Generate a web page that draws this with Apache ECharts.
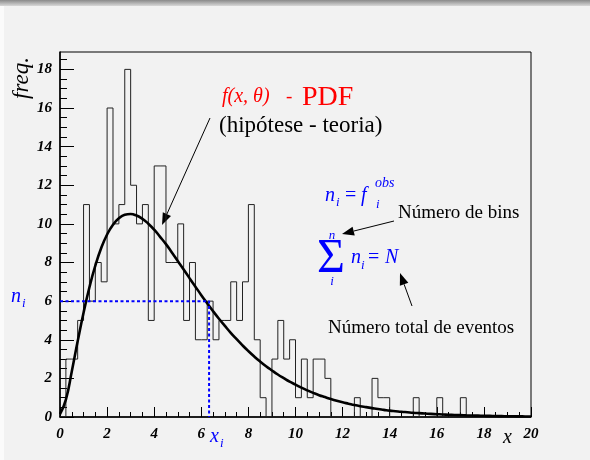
<!DOCTYPE html>
<html>
<head>
<meta charset="utf-8">
<script src="https://cdn.jsdelivr.net/npm/echarts@6/dist/echarts.min.js"></script>
<style>
  html, body { margin: 0; padding: 0; background: #f2f2f2; }
  #chart { width: 590px; height: 460px; }
</style>
</head>
<body>
<div id="chart"></div>
<script>
// Histogram: 80 bins of width 0.25 on [0, 20]
const binWidth = 0.25;
const binCounts = [
  0, 3, 3, 5, 11, 6, 8, 7, 16, 10,
  11, 18, 12, 10, 11, 5, 13, 13, 8, 8,
  10, 5, 8, 4, 4, 6, 4, 5, 5, 7,
  5, 7, 11, 4, 1, 0, 3, 5, 3, 4,
  1, 3, 1, 3, 3, 2, 0, 0, 0, 0,
  1, 0, 0, 2, 1, 1, 0, 0, 0, 0,
  1, 0, 0, 0, 1, 0, 0, 0, 1, 0,
  0, 0, 0, 0, 0, 0, 0, 0, 0, 0
];

// Fitted PDF f(x, θ), sampled every 0.25 from x = 0 to x = 20
const pdfStep = 0.25;
const pdfValues = [
  0.15, 0.9, 2.36, 3.92, 5.4, 6.72, 7.84, 8.75, 9.45, 9.96,
  10.29, 10.47, 10.51, 10.43, 10.26, 10.01, 9.7, 9.33, 8.95, 8.52,
  8.08, 7.64, 7.19, 6.75, 6.31, 5.89, 5.48, 5.09, 4.72, 4.36,
  4.03, 3.71, 3.41, 3.13, 2.87, 2.63, 2.41, 2.2, 2.01, 1.83,
  1.68, 1.52, 1.38, 1.25, 1.13, 1.03, 0.93, 0.84, 0.76, 0.69,
  0.62, 0.56, 0.51, 0.46, 0.41, 0.37, 0.33, 0.3, 0.27, 0.245,
  0.22, 0.2, 0.18, 0.16, 0.145, 0.13, 0.12, 0.105, 0.095, 0.085,
  0.077, 0.07, 0.062, 0.056, 0.05, 0.045, 0.04, 0.036, 0.032, 0.029,
  0.026
];

// Highlighted bin: x_i and n_i
const xi = 6.33;
const ni = 6;

// Axis ticks
const xMax = 20;
const yMax = 18.9;
const yMajorTicks = [0, 2, 4, 6, 8, 10, 12, 14, 16, 18];
const yMinorTicks = [];
for (let v = 0; v <= 18.5; v += 0.5) yMinorTicks.push(v);

const serif = '"Liberation Serif", "DejaVu Serif", serif';
const blue = '#0000ff';
const red = '#ff0000';

// Step outline of the histogram
const histPoints = [[0, 0]];
binCounts.forEach((c, k) => histPoints.push([k * binWidth, c]));
histPoints.push([binCounts.length * binWidth, binCounts[binCounts.length - 1]]);

const pdfPoints = pdfValues.map((y, i) => [i * pdfStep, y]);

function arrow(x1, y1, x2, y2, len, half) {
  const dx = x2 - x1, dy = y2 - y1;
  const d = Math.sqrt(dx * dx + dy * dy);
  const ux = dx / d, uy = dy / d;
  const bx = x2 - ux * len, by = y2 - uy * len;
  return [
    { type: 'line', shape: { x1, y1, x2: bx, y2: by }, style: { stroke: '#000', lineWidth: 1 } },
    { type: 'polygon', shape: { points: [[x2, y2], [bx - uy * half, by + ux * half], [bx + uy * half, by - ux * half]] }, style: { fill: '#000' } }
  ];
}

function txt(x, y, text, size, color, opts) {
  return Object.assign({
    type: 'text', x, y,
    style: Object.assign({
      text, fill: color, font: (opts && opts.font) || ('italic ' + size + 'px ' + serif),
      align: 'left', verticalAlign: 'middle'
    }, (opts && opts.style) || {})
  }, (opts && opts.el) || {});
}

const chart = echarts.init(document.getElementById('chart'));

const graphics = [
  // window frame shading
  { type: 'rect', shape: { x: 0, y: 0, width: 590, height: 6 },
    style: { fill: new echarts.graphic.LinearGradient(0, 0, 0, 1, [{ offset: 0, color: '#8a8a8a' }, { offset: 1, color: '#d8d8d8' }]) } },
  { type: 'rect', shape: { x: 0, y: 6, width: 4, height: 454 }, style: { fill: '#fbfbfb' } },

  // axis titles
  txt(22, 57, 'freq.', 23, '#000', { style: { align: 'right' }, el: { rotation: Math.PI / 2 } }),
  txt(503, 438, 'x', 20, '#000'),
  txt(210, 437, 'x', 20, blue),
  txt(220, 444, 'i', 13, blue),
  txt(11, 297, 'n', 20, blue),
  txt(22, 304, 'i', 13, blue),

  // PDF label
  txt(222, 97, 'f(x, θ)', 20, red),
  txt(286, 97, '-', 19, red, { font: '19px ' + serif }),
  txt(302, 98, 'PDF', 28, red, { font: '28px ' + serif }),
  txt(219, 126, '(hipótese - teoria)', 23, '#000', { font: '23px ' + serif }),

  // n_i = f_i^obs
  txt(325, 196, 'n', 20, blue),
  txt(336, 203, 'i', 13, blue),
  txt(345, 196, '=', 20, blue, { font: '20px ' + serif }),
  txt(361, 196, 'f', 20, blue),
  txt(375, 183, 'obs', 14, blue),
  txt(376, 205, 'i', 13, blue),

  txt(398, 213, 'Número de bins', 19, '#000', { font: '19px ' + serif }),

  // Σ n_i = N
  txt(331, 259, 'Σ', 48, blue, { font: '48px ' + serif, style: { align: 'center' } }),
  txt(332, 236, 'n', 13, blue, { style: { align: 'center' } }),
  txt(332, 282, 'i', 13, blue, { style: { align: 'center' } }),
  txt(351, 258, 'n', 20, blue),
  txt(361, 266, 'i', 13, blue),
  txt(368, 258, '=', 20, blue, { font: '20px ' + serif }),
  txt(385, 258, 'N', 20, blue),

  txt(328, 328, 'Número total de eventos', 19, '#000', { font: '19px ' + serif })
]
  .concat(arrow(210, 118, 162, 225, 12, 4.5))
  .concat(arrow(394, 221, 342, 234, 12, 4.5))
  .concat(arrow(412, 306, 400, 273, 12, 4.5));

const tickLabel = {
  fontFamily: serif, fontStyle: 'italic', fontWeight: 'bold', fontSize: 15, color: '#000'
};

chart.setOption({
  backgroundColor: '#f2f2f2',
  animation: false,
  grid: { left: 60, top: 52, width: 471, height: 365, show: true, borderColor: '#000', borderWidth: 1, backgroundColor: 'transparent' },
  xAxis: {
    type: 'value', min: 0, max: xMax, interval: 2,
    axisLine: { lineStyle: { color: '#000', width: 1.5 } },
    axisTick: { inside: true, length: 10, lineStyle: { color: '#000' } },
    minorTick: { show: true, splitNumber: 4, length: 5, lineStyle: { color: '#000' } },
    splitLine: { show: false },
    axisLabel: Object.assign({ margin: 10 }, tickLabel)
  },
  yAxis: [
    {
      type: 'value', min: 0, max: yMax,
      axisLine: { lineStyle: { color: '#000', width: 1.5 } },
      axisTick: { inside: true, length: 14, customValues: yMajorTicks, lineStyle: { color: '#000' } },
      splitLine: { show: false },
      axisLabel: Object.assign({ margin: 8, customValues: yMajorTicks }, tickLabel)
    },
    {
      type: 'value', min: 0, max: yMax, position: 'left',
      axisLine: { show: false },
      axisTick: { inside: true, length: 7, customValues: yMinorTicks, lineStyle: { color: '#000' } },
      splitLine: { show: false },
      axisLabel: { show: false }
    }
  ],
  series: [
    {
      name: 'histograma', type: 'line', step: 'end', data: histPoints,
      symbol: 'none', lineStyle: { color: '#222', width: 1 }, z: 2
    },
    {
      name: 'f(x,θ)', type: 'line', data: pdfPoints, smooth: true,
      symbol: 'none', lineStyle: { color: '#000', width: 2.6 }, z: 3
    },
    {
      name: 'n_i', type: 'line', data: [[0, ni], [xi, ni], [xi, 0]],
      symbol: 'none', lineStyle: { color: blue, width: 2, type: [3, 2.5] }, z: 4
    }
  ],
  graphic: graphics
});
</script>
</body>
</html>
